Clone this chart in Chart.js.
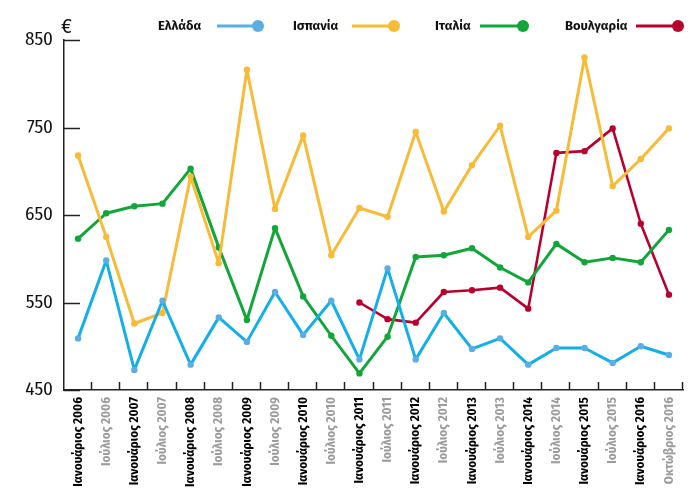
<!DOCTYPE html>
<html><head><meta charset="utf-8">
<script src="https://cdn.jsdelivr.net/npm/chart.js@4.4.1/dist/chart.umd.min.js"></script>
<style>html,body{margin:0;padding:0;background:#fff}</style>
</head><body>
<canvas id="c" width="700" height="500"></canvas>
<script>
const categories = ['Ιανουάριος 2006','Ιούλιος 2006','Ιανουάριος 2007','Ιούλιος 2007','Ιανουάριος 2008','Ιούλιος 2008','Ιανουάριος 2009','Ιούλιος 2009','Ιανουάριος 2010','Ιούλιος 2010','Ιανουάριος 2011','Ιούλιος 2011','Ιανουάριος 2012','Ιούλιος 2012','Ιανουάριος 2013','Ιούλιος 2013','Ιανουάριος 2014','Ιούλιος 2014','Ιανουάριος 2015','Ιούλιος 2015','Ιανουάριος 2016','Οκτώβριος 2016'];
const seriesNames = ['Ελλάδα','Ισπανία','Ιταλία','Βουλγαρία'];
const greece   = [509, 598, 473, 552, 479, 533, 505, 562, 513, 552, 485, 589, 485, 538, 497, 509, 479, 498, 498, 481, 500, 490];
const spain    = [718, 625, 526, 538, 694, 595, 816, 657, 741, 604, 658, 648, 745, 654, 707, 752, 625, 655, 830, 683, 714, 749];
const italy    = [623, 652, 660, 663, 703, 613, 530, 635, 557, 512, 469, 511, 602, 604, 612, 590, 573, 617, 596, 601, 596, 633];
const bulgaria = [null, null, null, null, null, null, null, null, null, null, 550, 531, 527, 562, 564, 567, 543, 721, 723, 749, 640, 559];
const yTicks = [450, 550, 650, 750, 850];
const currencyLabel = '€';

const FONT = '"Fira Sans Condensed", "Roboto Condensed", "DejaVu Sans Condensed", sans-serif';
const LEGEND_FONT = '"Fira Sans", "Open Sans", "Noto Sans", sans-serif';
const lineColors = ['#14aee8', '#f7bb38', '#12a63a', '#b8002f'];
const pointColors = ['#5aaee2', '#f7bb38', '#12a63a', '#b8002f'];
const legendColors = ['#5aaee2', '#f7bb38', '#12a63a', '#b8002f'];

function ds(i, data, width) {
  return {
    label: seriesNames[i], data,
    borderColor: lineColors[i], backgroundColor: pointColors[i],
    pointBackgroundColor: pointColors[i], pointBorderColor: pointColors[i],
    borderWidth: width, pointRadius: 3.2, pointBorderWidth: 0, tension: 0, spanGaps: false,
    borderJoinStyle: 'round', borderCapStyle: 'round'
  };
}

const customPlugin = {
  id: 'custom',
  afterDraw(chart) {
    const ctx = chart.ctx, x = chart.scales.x, y = chart.scales.y, a = chart.chartArea;
    ctx.save();
    ctx.strokeStyle = '#222'; ctx.lineWidth = 1.5;
    yTicks.forEach(v => {
      const py = Math.round(y.getPixelForValue(v)) + 0.5;
      ctx.beginPath(); ctx.moveTo(a.left, py); ctx.lineTo(a.left + 16, py); ctx.stroke();
    });
    const n = categories.length;
    for (let i = 1; i <= n; i++) {
      const px = Math.round(i < n ? (x.getPixelForValue(i - 1) + x.getPixelForValue(i)) / 2 : a.right) - 0.5;
      ctx.beginPath(); ctx.moveTo(px, a.bottom); ctx.lineTo(px, a.bottom - 8); ctx.stroke();
    }
    ctx.fillStyle = '#111';
    ctx.font = '21px ' + FONT;
    ctx.textAlign = 'left'; ctx.textBaseline = 'alphabetic';
    ctx.fillText(currencyLabel, 61, 33);
    const textX = [158, 293, 435, 565];
    const lineX = [217, 352, 480, 636];
    const dotX = [258, 394, 523, 678];
    const ly = 26;
    ctx.font = 'bold 13px ' + LEGEND_FONT;
    ctx.textBaseline = 'middle';
    chart.data.datasets.forEach((d, i) => {
      ctx.fillStyle = '#111';
      ctx.fillText(d.label, textX[i], ly);
      ctx.strokeStyle = legendColors[i]; ctx.lineWidth = 3;
      ctx.beginPath(); ctx.moveTo(lineX[i], ly); ctx.lineTo(dotX[i], ly); ctx.stroke();
      ctx.fillStyle = legendColors[i];
      ctx.beginPath(); ctx.arc(dotX[i], ly, 6, 0, Math.PI * 2); ctx.fill();
    });
    ctx.restore();
  }
};

new Chart(document.getElementById('c'), {
  type: 'line',
  data: {
    labels: categories,
    datasets: [ds(0, greece, 3), ds(1, spain, 3), ds(2, italy, 3), ds(3, bulgaria, 2.6)]
  },
  options: {
    responsive: false, animation: false, devicePixelRatio: 1,
    layout: { padding: { left: 0, right: 17, top: 40, bottom: 0 } },
    plugins: { legend: { display: false }, tooltip: { enabled: false } },
    scales: {
      x: {
        type: 'category', offset: true,
        grid: { display: false, offset: true, drawTicks: false },
        border: { display: true, color: '#222', width: 1.5 },
        ticks: {
          autoSkip: false, maxRotation: 90, minRotation: 90, padding: 7,
          font: { family: FONT, size: 13, weight: 'bold' },
          color: c => categories[c.index] && categories[c.index].startsWith('Ιανουάριος') ? '#000' : '#9b9b9b'
        },
        afterFit: s => { s.height = 110; }
      },
      y: {
        min: 450, max: 850,
        grid: { display: false, drawTicks: false },
        border: { display: true, color: '#222', width: 1.5 },
        ticks: {
          stepSize: 100, padding: 11,
          font: { family: FONT, size: 19 }, color: '#111'
        },
        afterFit: s => { s.width = 64; }
      }
    }
  },
  plugins: [customPlugin]
});
</script>
</body></html>
